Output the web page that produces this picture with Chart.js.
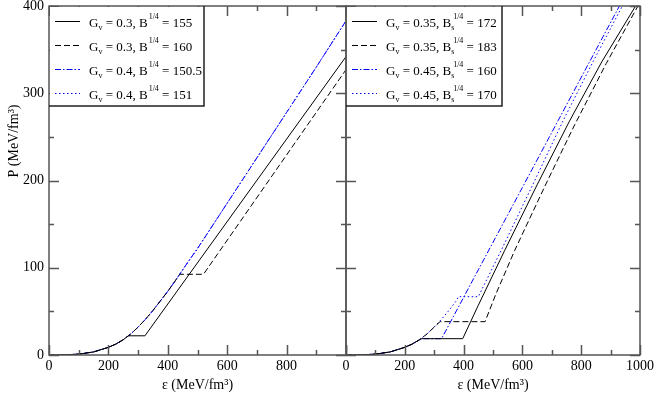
<!DOCTYPE html>
<html>
<head>
<meta charset="utf-8">
<script src="https://cdn.jsdelivr.net/npm/chart.js@4"></script>
<style>
  html, body { margin: 0; padding: 0; background: #fff; }
  #wrapL { position: absolute; left: 0; top: 0; width: 350px; height: 394px; }
  #wrapR { position: absolute; left: 330px; top: 0; width: 324px; height: 394px; }
</style>
</head>
<body>
<div id="wrapL"><canvas id="leftChart"></canvas></div>
<div id="wrapR"><canvas id="rightChart"></canvas></div>
<script>
// hadronic branch, shared start of every curve
const hadE = [0, 50, 100, 150, 200, 225, 250, 275, 300, 325, 350, 375, 400, 425, 440];
const hadP = [0, 0.1, 1, 3.5, 8.8, 12.5, 17.5, 24, 32, 41, 51, 62, 73, 85, 92.5];

// left panel
const lSolidE = [267, 323, 1000];
const lSolidP = [22, 22, 342];
const lDashE = [520, 1000];
const lDashP = [92.5, 327];
const lBlueE = [475, 500, 600, 700, 800, 900, 1000];
const lBlueP = [110, 122, 174, 226, 278, 330, 383];

// right panel
const rSolidE = [257, 397, 450, 540, 650, 760, 870, 985];
const rSolidP = [18.7, 18.7, 57, 120, 195, 268, 336, 400];
const rDashE = [320, 473, 510, 574, 680, 778, 885, 993];
const rDashP = [38.2, 38.2, 70, 120, 196, 264, 334, 400];
const rDashDotE = [257, 325, 468, 600, 722, 830, 930];
const rDashDotP = [18.7, 18.7, 109, 192, 269, 337, 400];
const rDotE = [382, 450, 528, 635, 739, 840, 940];
const rDotP = [66.8, 66.8, 120, 195, 269, 336, 400];

const xTicks = [0, 200, 400, 600, 800, 1000];
const yTicks = [0, 100, 200, 300, 400];

const FONT = 'Liberation Serif';

// hadronic points up to (and not past) a given energy density
function had(upTo) {
    const out = [];
    hadE.forEach((e, i) => { if (e < upTo) out.push({x: e, y: hadP[i]}); });
    return out;
}
function pts(e, p) {
    return e.map((v, i) => ({x: v, y: p[i]}));
}

const solid = [];
const dashed = [6, 3];
const dashDot = [6, 2, 1.5, 2];
const dotted = [1.5, 2.5];

function line(data, color, dash) {
    return {
        data: data,
        borderColor: color,
        borderWidth: 1,
        borderDash: dash,
        pointRadius: 0,
        tension: 0,
        fill: false
    };
}

// frame with inward ticks on all four sides
const frameTicks = {
    id: 'frameTicks',
    afterDatasetsDraw(chart) {
        const {ctx, chartArea: a, scales: {x, y}} = chart;
        ctx.save();
        ctx.strokeStyle = '#555';
        ctx.lineWidth = 1.5;
        ctx.strokeRect(a.left, a.top, a.right - a.left, a.bottom - a.top);
        ctx.beginPath();
        for (let v = 0; v <= 1000; v += 100) {
            const px = Math.round(x.getPixelForValue(v)) + 0.5;
            const len = v % 200 === 0 ? 10 : 5;
            ctx.moveTo(px, a.bottom); ctx.lineTo(px, a.bottom - len);
            ctx.moveTo(px, a.top); ctx.lineTo(px, a.top + len);
        }
        for (let v = 0; v <= 400; v += 50) {
            const py = Math.round(y.getPixelForValue(v)) + 0.5;
            const len = v % 100 === 0 ? 10 : 5;
            ctx.moveTo(a.left, py); ctx.lineTo(a.left + len, py);
            ctx.moveTo(a.right, py); ctx.lineTo(a.right - len, py);
        }
        ctx.stroke();
        ctx.restore();
    }
};

// draws text made of normal / sub / sup / subsup pieces
function richText(ctx, parts, x, y) {
    let cx = x;
    parts.forEach(([t, kind]) => {
        if (kind === '') {
            ctx.font = '13px "' + FONT + '"';
            ctx.fillText(t, cx, y);
            cx += ctx.measureText(t).width;
        } else if (kind === 'sub') {
            ctx.font = '8px "' + FONT + '"';
            ctx.fillText(t, cx, y + 3);
            cx += ctx.measureText(t).width;
        } else if (kind === 'sup') {
            ctx.font = '8px "' + FONT + '"';
            ctx.fillText(t, cx + 1, y - 8);
            cx += ctx.measureText(t).width + 1;
        } else {
            const [sb, sp] = t.split('|');
            ctx.font = '8px "' + FONT + '"';
            ctx.fillText(sb, cx, y + 3);
            ctx.fillText(sp, cx + 2, y - 8);
            cx += Math.max(ctx.measureText(sb).width, ctx.measureText(sp).width + 2);
        }
    });
}

const boxLegend = {
    id: 'boxLegend',
    afterDraw(chart, args, opts) {
        const {ctx, chartArea: a} = chart;
        ctx.save();
        ctx.fillStyle = '#fff';
        ctx.fillRect(a.left + 1, a.top + 1, opts.w - 1, opts.h - 1);
        ctx.strokeStyle = '#222';
        ctx.lineWidth = 1.5;
        ctx.beginPath();
        ctx.moveTo(a.left, a.top + opts.h);
        ctx.lineTo(a.left + opts.w, a.top + opts.h);
        ctx.lineTo(a.left + opts.w, a.top);
        ctx.stroke();
        opts.items.forEach((it, i) => {
            const cy = a.top + 15 + i * 24 + 0.5;
            ctx.strokeStyle = it.color;
            ctx.lineWidth = 1;
            ctx.setLineDash(it.dash);
            ctx.beginPath();
            ctx.moveTo(a.left + 6, cy);
            ctx.lineTo(a.left + 31, cy);
            ctx.stroke();
            ctx.setLineDash([]);
            ctx.fillStyle = '#000';
            ctx.textBaseline = 'alphabetic';
            richText(ctx, it.parts, a.left + 40, cy + 5);
        });
        if (opts.yTitle) {
            ctx.translate(14, 141);
            ctx.rotate(-Math.PI / 2);
            ctx.font = '14px "' + FONT + '"';
            ctx.textAlign = 'center';
            ctx.textBaseline = 'middle';
            ctx.fillStyle = '#000';
            ctx.fillText('P (MeV/fm\u00B3)', 0, 0);
        }
        ctx.restore();
    }
};

function xScale(hideLast) {
    return {
        type: 'linear',
        min: 0,
        max: 1000,
        afterBuildTicks: s => { s.ticks = xTicks.map(v => ({value: v})); },
        ticks: {
            color: '#000',
            padding: 3,
            font: {family: FONT, size: 14},
            callback: v => (hideLast && v === 1000) ? '' : v
        },
        grid: {display: false, drawTicks: false},
        border: {display: false},
        title: {
            display: true,
            text: '\u03B5 (MeV/fm\u00B3)',
            color: '#000',
            font: {family: FONT, size: 14},
            padding: {top: 0, bottom: 0}
        },
        afterFit: s => { s.height = 39; s.paddingLeft = 0; s.paddingRight = 0; }
    };
}

// Left panel
new Chart(document.getElementById('leftChart'), {
    type: 'line',
    data: {
        datasets: [
            line(had(267).concat(pts(lSolidE, lSolidP)), '#000', solid),
            line(had(441).concat(pts(lDashE, lDashP)), '#000', dashed),
            line(had(441).concat(pts(lBlueE, lBlueP)), '#0000ff', dashDot),
            line(had(441).concat(pts(lBlueE, lBlueP)), '#0000ff', dotted)
        ]
    },
    options: {
        animation: false,
        responsive: true,
        maintainAspectRatio: false,
        layout: {padding: {left: 0, right: 4, top: 6, bottom: 0}},
        plugins: {
            legend: {display: false},
            tooltip: {enabled: false},
            boxLegend: {
                w: 155, h: 100, yTitle: true,
                items: [
                    {color: '#000', dash: solid, parts: [['G', ''], ['v', 'sub'], [' = 0.3, B', ''], ['1/4', 'sup'], [' = 155', '']]},
                    {color: '#000', dash: dashed, parts: [['G', ''], ['v', 'sub'], [' = 0.3, B', ''], ['1/4', 'sup'], [' = 160', '']]},
                    {color: '#0000ff', dash: dashDot, parts: [['G', ''], ['v', 'sub'], [' = 0.4, B', ''], ['1/4', 'sup'], [' = 150.5', '']]},
                    {color: '#0000ff', dash: dotted, parts: [['G', ''], ['v', 'sub'], [' = 0.4, B', ''], ['1/4', 'sup'], [' = 151', '']]}
                ]
            }
        },
        scales: {
            x: xScale(true),
            y: {
                type: 'linear',
                min: 0,
                max: 400,
                afterBuildTicks: s => { s.ticks = yTicks.map(v => ({value: v})); },
                ticks: {color: '#000', padding: 5, font: {family: FONT, size: 14}},
                grid: {display: false, drawTicks: false},
                border: {display: false},
                afterFit: s => { s.width = 49; s.paddingTop = 0; s.paddingBottom = 0; }
            }
        }
    },
    plugins: [frameTicks, boxLegend]
});

// Right panel
new Chart(document.getElementById('rightChart'), {
    type: 'line',
    data: {
        datasets: [
            line(had(257).concat(pts(rSolidE, rSolidP)), '#000', solid),
            line(had(320).concat(pts(rDashE, rDashP)), '#000', dashed),
            line(had(257).concat(pts(rDashDotE, rDashDotP)), '#0000ff', dashDot),
            line(had(382).concat(pts(rDotE, rDotP)), '#0000ff', dotted)
        ]
    },
    options: {
        animation: false,
        responsive: true,
        maintainAspectRatio: false,
        layout: {padding: {left: 16, right: 14, top: 6, bottom: 0}},
        plugins: {
            legend: {display: false},
            tooltip: {enabled: false},
            boxLegend: {
                w: 156, h: 100, yTitle: false,
                items: [
                    {color: '#000', dash: solid, parts: [['G', ''], ['v', 'sub'], [' = 0.35, B', ''], ['s|1/4', 'subsup'], [' = 172', '']]},
                    {color: '#000', dash: dashed, parts: [['G', ''], ['v', 'sub'], [' = 0.35, B', ''], ['s|1/4', 'subsup'], [' = 183', '']]},
                    {color: '#0000ff', dash: dashDot, parts: [['G', ''], ['v', 'sub'], [' = 0.45, B', ''], ['s|1/4', 'subsup'], [' = 160', '']]},
                    {color: '#0000ff', dash: dotted, parts: [['G', ''], ['v', 'sub'], [' = 0.45, B', ''], ['s|1/4', 'subsup'], [' = 170', '']]}
                ]
            }
        },
        scales: {
            x: xScale(false),
            y: {type: 'linear', min: 0, max: 400, display: false}
        }
    },
    plugins: [frameTicks, boxLegend]
});
</script>
</body>
</html>
